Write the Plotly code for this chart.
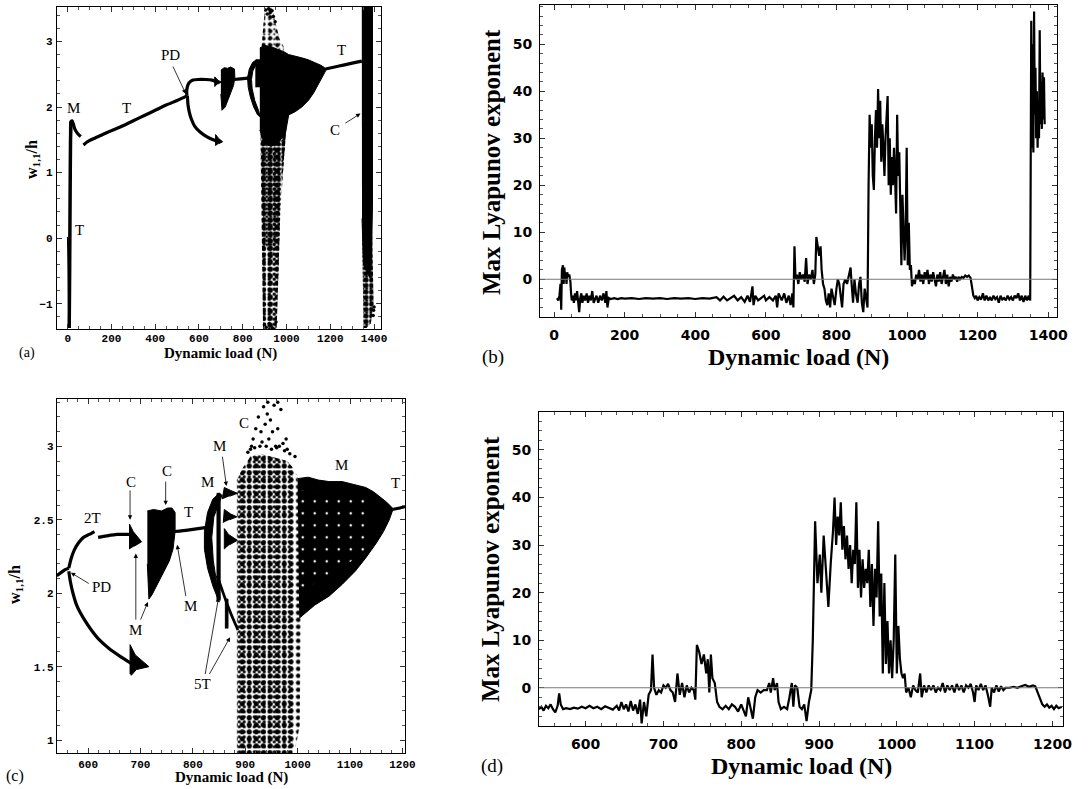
import plotly.graph_objects as go

# ------------------------------------------------------------------
# Panel (b): max Lyapunov exponent, 0..1400 N
B_LOAD = [8,12,15,18,20,22,25,27,29,31,33,35,37,40,43,46,48,50,53,56,59,62,65,68,71,74,77,80,84,88,92,96,100,
          104,108,112,116,120,125,130,135,140,145,148,151,155,160,170,180,190,200,220,240,260,280,300,320,340,
          360,380,400,420,440,460,470,480,490,500,510,520,530,540,548,555,562,565,570,578,585,595,600,610,620,
          628,632,636,645,652,658,665,670,675,678,681,684,688,692,696,700,705,710,714,718,722,727,732,736,740,
          743,747,751,755,758,762,766,770,774,778,782,786,790,795,800,804,808,812,816,820,825,830,835,840,843,
          847,851,855,860,864,868,872,876,880,884,888,891,894,897,900,903,906,909,912,915,918,921,924,927,930,
          933,936,939,942,945,948,951,954,957,960,963,966,969,972,975,978,981,984,987,990,993,996,999,1002,1005,
          1008,1011,1014,1018,1022,1026,1030,1034,1038,1042,1046,1050,1054,1058,1062,1066,1070,1074,1078,1082,
          1086,1090,1094,1098,1102,1106,1110,1114,1118,1122,1126,1130,1134,1138,1142,1146,1150,1155,1160,1165,
          1170,1175,1180,1184,1188,1192,1196,1200,1205,1210,1215,1220,1225,1230,1235,1240,1245,1250,1255,1260,
          1265,1270,1275,1280,1285,1290,1295,1300,1305,1310,1315,1320,1325,1330,1335,1340,1345,1349,1352,1354,
          1356,1358,1360,1362,1364,1366,1368,1370,1372,1374,1376,1378,1380,1382,1384,1386,1388,1390]
B_LYAP = [-4,-4.5,-3.5,-1,-6.5,2,3,-1,2.5,0,1.5,-1,1.5,0.5,1,-0.5,-3,-4.5,-3.5,-5,-3,-4.5,-2.5,-5.5,-7,-4,-3,-5,
          -3.5,-4.5,-3,-5,-3.5,-4.5,-2.5,-5,-4,-3.5,-5,-3.5,-4.5,-3,-5,-2.5,-6,-4,-4.2,-4,-4.2,-4,-4.1,-4,-4.2,
          -4,-4.1,-4,-4.2,-4,-4.1,-4,-4.2,-4,-4.1,-3.8,-4.5,-3.7,-4.5,-4,-3.5,-4.5,-3.8,-4.8,-3.5,-4.8,-1.5,-5.5,
          -3.5,-4.5,-4,-3.5,-4.5,-3.8,-4.5,-3.5,-6,-3,-4.5,-3,-5,-3.5,-5.5,-3,-6,7,0,1,-1,1.5,0,1,-0.5,4.5,-1,1,
          0,2,-1,1,9,7,5,7,2,-1,-2,-4.5,-5.5,-3,-6,-2,-4,-5.5,-2,0,-1,-4,-6,-1,0,-1,0.5,2.5,-1,-5,0,-3,-5,-1,0.5,
          -5,-7,-2,-4,-6,20,35,28,33,22,19,30,36,28,40.5,30,38,25,33,28,22,30,35,39,20,30,18,26,20,28,22,14,35,
          22,27,13,3,18,8,4,10,28,3,12,2,3,-1.5,0,-1,1,0,2,-0.5,1,-1,1.5,0,2,-1,1,-0.5,1.5,0,-1.5,1,-0.5,1.5,-1,
          0.5,2,-1,1,-1.5,0.5,-0.5,1,0,0.5,-0.5,0.5,0,0.5,0.3,0.8,0.5,0.8,0.3,-1.5,-3.5,-4,-3.5,-4.5,-3.8,-4.3,
          -3,-4.5,-3.5,-4.5,-3.8,-4.5,-3.5,-4.2,-3.8,-5,-3.5,-4.3,-4,-4.5,-3.5,-4.3,-3.8,-4.5,-3.5,-4,-3,-4.5,
          -3.5,-4.8,-3.5,-4.5,-3.5,-4.5,55,28,50,27,57,35,45,30,40,28,38,30,53,33,42,32,44,34,43,33]

# Panel (d): max Lyapunov exponent, 540..1210 N
D_LOAD = [540,543,546,549,552,555,558,561,564,566,568,571,575,580,585,590,595,600,605,610,615,620,625,630,635,
          640,643,646,649,652,655,658,661,664,667,670,672,675,678,681,684,686,688,691,694,697,700,703,706,709,
          712,715,718,721,724,727,730,733,736,739,741,743,746,749,752,755,757,759,761,763,766,769,772,776,780,
          784,788,792,796,800,803,806,809,812,815,818,821,825,829,833,836,838,841,843,846,848,851,855,859,862,
          865,867,869,872,875,878,881,884,887,890,892,895,898,901,903,906,909,912,915,918,920,922,924,926,928,
          930,932,934,936,938,940,942,944,946,948,950,952,954,956,958,960,962,964,966,968,970,972,974,976,978,
          980,982,984,986,988,990,992,994,996,998,1000,1002,1004,1006,1008,1010,1012,1015,1018,1021,1024,1027,
          1030,1032,1035,1038,1041,1044,1047,1050,1053,1056,1059,1062,1065,1068,1071,1074,1077,1080,1083,1086,
          1089,1092,1095,1098,1100,1102,1105,1108,1111,1114,1117,1120,1122,1125,1128,1131,1134,1137,1140,1145,
          1150,1155,1160,1165,1170,1175,1178,1181,1184,1187,1190,1193,1196,1199,1202,1205,1208,1212]
D_LYAP = [-4.5,-4,-4.8,-3.8,-4.3,-3.5,-4.5,-5.2,-3.8,-1.2,-3.5,-4.5,-4.3,-4.5,-4.2,-4.4,-4,-4.3,-3.8,-4.3,-4,
          -4.5,-3.9,-4.3,-4.6,-3.8,-4.8,-3,-4.5,-3.5,-5,-2.8,-4.8,-3.5,-5.5,-2.5,-7.5,-3,-6,-1.5,-0.5,7,0,-1.5,
          -0.5,-1,0.5,0,0.8,-0.5,-1,-3,3,-1.5,1,-2,0.5,-1,0,-0.5,-2.5,9,7.5,5,7,3,6,-1,7,2,1,-3,-4,-4.5,-3.8,
          -4.5,-3.5,-4,-5,-3.5,-5,-6,-2,-4,-6.5,-2,-0.5,-1,-0.5,-0.5,1,-1,2,-0.5,1,-3,-4.5,-4,-4.5,-2,1,-4,0.5,
          0,-4,-4.5,-3.5,-7,-3,-0.5,10,35,22,28,20,32,24,17,26,33,40,30,36,32,39,29,34,27,32,25,30,22,29,26,39,
          21,29,19,27,21,25,22,29,17,26,13,25,19,35,15,24,3,22,5,14,3,10,2,10,28,3,13,6,3,2,3,-1,0,-2,0.5,-0.5,
          -1,3,-2,0.5,-1,0.5,-0.5,0.5,-1,0,-0.5,1,-1,0.5,-0.5,0.5,-1,0.8,-0.5,0.5,-1,0.5,0,0.8,-1,-3,0.5,-0.5,
          0.8,-0.5,0.5,-1.5,-4,0,-1,0.5,-0.8,0.3,-0.5,0,0,0.2,0,0.3,0.6,0.2,0.5,0.3,-1,-2.5,-3.5,-4,-3.5,-4.2,
          -3.8,-4.5,-3.8,-4.3,-4]

# ------------------------------------------------------------------
# Panel (a): bifurcation diagram, 0..1400 N
A_T0_X = [0, 2, 4, 6]
A_T0_Y = [0.02, -0.4, -0.9, -1.37]
A_RISE_X = [7, 9, 11, 13, 15]
A_RISE_Y = [-1.37, -0.5, 0.6, 1.5, 1.78]
A_M_X = [13, 15, 20, 26, 32, 40, 50, 60]
A_M_Y = [1.6, 1.78, 1.79, 1.74, 1.67, 1.62, 1.58, 1.55]
A_T1_X = [72, 90, 120, 160, 200, 250, 300, 350, 400, 450, 500, 545]
A_T1_Y = [1.42, 1.47, 1.52, 1.58, 1.64, 1.71, 1.79, 1.87, 1.95, 2.03, 2.10, 2.17]
A_UP_X = [545, 544, 547, 555, 570, 595, 630, 660, 678]
A_UP_Y = [2.17, 2.24, 2.31, 2.37, 2.41, 2.42, 2.42, 2.41, 2.39]
A_LO_X = [547, 550, 556, 566, 580, 605, 635, 665, 690]
A_LO_Y = [2.17, 2.03, 1.92, 1.81, 1.71, 1.62, 1.55, 1.5, 1.47]
A_TRI1_X = [672, 672, 686, 702, 686]
A_TRI1_Y = [2.31, 2.46, 2.41, 2.38, 2.35]
A_TRI2_X = [676, 676, 690, 708, 690]
A_TRI2_Y = [1.41, 1.58, 1.52, 1.47, 1.44]
A_BLK_X = [700, 715, 730, 745, 762, 764, 758, 748, 735, 720, 705, 700]
A_BLK_Y = [2.56, 2.6, 2.59, 2.61, 2.58, 2.45, 2.33, 2.24, 2.12, 2.0, 1.95, 2.2]
A_T2_X = [760, 790, 825]
A_T2_Y = [2.42, 2.43, 2.44]
A_CRES_X = [862, 845, 830, 822, 825, 835, 850, 868, 880, 872, 855, 843, 840, 846, 858, 870]
A_CRES_Y = [2.72, 2.68, 2.58, 2.45, 2.3, 2.15, 2.0, 1.88, 1.85, 1.95, 2.1, 2.28, 2.42, 2.55, 2.63, 2.68]
A_SQ_X = [860, 860, 880, 880]
A_SQ_Y = [2.3, 2.72, 2.72, 2.3]
A_CORE_X = [878, 900, 930, 960, 990, 1010, 1040, 1070, 1100, 1130, 1155, 1170, 1180,
            1180, 1165, 1150, 1125, 1100, 1070, 1040, 1010, 995, 960, 930, 900, 878]
A_CORE_Y = [2.9, 2.94, 2.92, 2.88, 2.84, 2.8, 2.78, 2.75, 2.72, 2.68, 2.64, 2.61, 2.58,
            2.56, 2.47, 2.37, 2.22, 2.1, 2.0, 1.93, 1.88, 1.6, 1.45, 1.4, 1.45, 1.65]
A_SPK_TOP_X = [885, 893, 902, 935, 952, 968, 990, 985, 885]
A_SPK_TOP_Y = [2.9, 3.25, 3.53, 3.53, 3.25, 3.05, 2.9, 2.85, 2.85]
A_SPK_BOT_X = [880, 884, 889, 893, 955, 962, 972, 988, 1000, 1000]
A_SPK_BOT_Y = [1.7, 0.5, -0.5, -1.39, -1.39, -0.5, 0.4, 1.2, 1.7, 1.9]
A_SPK_IN_X = [882, 888, 898, 930, 955, 975, 995]
A_SPK_IN_Y = [1.6, 0.7, 0.0, -0.4, 0.0, 0.8, 1.6]
A_T3_X = [1178, 1220, 1260, 1300, 1344]
A_T3_Y = [2.58, 2.61, 2.64, 2.67, 2.7]
A_COL_X = [1344, 1393, 1393, 1388, 1380, 1352, 1345]
A_COL_Y = [3.53, 3.53, 0.5, -0.3, -0.6, -0.4, 0.3]
A_COLSPK_X = [1345, 1348, 1352, 1365, 1385, 1398, 1394, 1390]
A_COLSPK_Y = [0.2, -1.0, -1.37, -1.37, -1.3, -1.0, -0.3, 0.3]
A_DOTS_X = [905, 912, 918, 926, 934, 940, 948, 899, 907, 921, 936, 952, 1398, 1400, 1396]
A_DOTS_Y = [3.48, 3.42, 3.5, 3.44, 3.47, 3.38, 3.3, -1.32, -1.36, -1.3, -1.37, -1.28, -1.1, -1.05, -1.18]

# Panel (c): zoomed bifurcation diagram, 540..1210 N
C_T0_X = [540, 548, 556, 563]
C_T0_Y = [2.12, 2.14, 2.16, 2.17]
C_UPA_X = [563, 567, 573, 581, 591, 602, 612]
C_UPA_Y = [2.17, 2.23, 2.29, 2.34, 2.38, 2.4, 2.42]
C_UPB_X = [619, 635, 655, 680]
C_UPB_Y = [2.38, 2.39, 2.4, 2.4]
C_LO_X = [563, 566, 571, 579, 591, 606, 622, 641, 661, 683]
C_LO_Y = [2.15, 2.08, 2.0, 1.91, 1.83, 1.75, 1.68, 1.62, 1.57, 1.52]
C_TRI1_X = [679, 679, 686, 702, 688]
C_TRI1_Y = [2.3, 2.47, 2.42, 2.35, 2.32]
C_TRI2_X = [680, 680, 690, 716, 692, 682]
C_TRI2_Y = [1.45, 1.65, 1.58, 1.5, 1.48, 1.44]
C_BLK_X = [713, 725, 740, 752, 760, 766, 766, 762, 755, 745, 732, 722, 716, 713]
C_BLK_Y = [2.56, 2.57, 2.56, 2.58, 2.58, 2.55, 2.42, 2.3, 2.22, 2.15, 2.06, 1.99, 1.96, 2.2]
C_T1_X = [765, 790, 810, 830]
C_T1_Y = [2.42, 2.43, 2.44, 2.45]
C_CRES_X = [850, 838, 828, 822, 822, 828, 838, 849, 852, 845, 839, 836, 840, 850, 856]
C_CRES_Y = [2.68, 2.64, 2.55, 2.42, 2.3, 2.17, 2.05, 1.95, 1.97, 2.08, 2.22, 2.38, 2.52, 2.62, 2.67]
C_BAR_X = [846, 846, 852, 852]
C_BAR_Y = [1.95, 2.68, 2.68, 1.95]
C_M1_X = [856, 860, 872, 885, 870]
C_M1_Y = [2.64, 2.72, 2.7, 2.68, 2.66]
C_M2_X = [858, 860, 872, 884, 870]
C_M2_Y = [2.48, 2.57, 2.54, 2.52, 2.5]
C_M3_X = [860, 860, 868, 885, 870]
C_M3_Y = [2.3, 2.44, 2.4, 2.36, 2.33]
C_5T_X = [846, 855, 865, 875, 886]
C_5T_Y = [2.12, 2.03, 1.93, 1.84, 1.75]
C_5TB_X = [862, 862, 867, 867]
C_5TB_Y = [1.76, 1.96, 1.96, 1.76]
C_SPK_X = [884, 884, 895, 910, 930, 950, 965, 980, 990, 990]
C_SPK_Y = [0.91, 2.77, 2.85, 2.93, 2.95, 2.93, 2.92, 2.9, 2.86, 0.91]
C_SPK2_X = [988, 988, 1000, 1006, 1004, 996]
C_SPK2_Y = [0.95, 2.85, 2.8, 1.8, 1.1, 0.95]
C_LOBE_X = [1000, 1020, 1040, 1060, 1085, 1110, 1130, 1145, 1160, 1170, 1181,
            1181, 1175, 1164, 1150, 1130, 1110, 1085, 1060, 1033, 1003]
C_LOBE_Y = [2.78, 2.79, 2.77, 2.76, 2.76, 2.74, 2.72, 2.69, 2.65, 2.62, 2.58,
            2.56, 2.5, 2.42, 2.34, 2.24, 2.15, 2.06, 1.98, 1.92, 1.83]
C_WSPK_X = [1002, 1002, 1140, 1140]
C_WSPK_Y = [2.0, 2.7, 2.68, 2.3]
C_T2_X = [1180, 1195, 1206]
C_T2_Y = [2.57, 2.58, 2.59]
C_DOTS_X = [915, 920, 925, 930, 935, 938, 942, 945, 948, 952, 955, 958, 962, 968, 972, 910, 918, 928, 932,
            940, 950, 960, 965, 975, 980, 985, 995, 905, 912, 943, 962, 978]
C_DOTS_Y = [3.05, 3.12, 3.2, 3.1, 3.27, 3.15, 3.22, 3.05, 3.18, 3.1, 3.28, 3.0, 3.12, 3.25, 3.02, 2.98, 2.99,
            3.0, 3.03, 3.0, 2.98, 2.99, 3.0, 2.97, 2.98, 2.95, 2.93, 2.96, 3.0, 3.3, 3.3, 3.05]

# ------------------------------------------------------------------
SERIF = "Liberation Serif"
fig = go.Figure()


def line(xs, ys, ax, width=3.2, color="black"):
    fig.add_trace(go.Scatter(x=xs, y=ys, mode="lines", xaxis="x" + ax, yaxis="y" + ax,
                             line=dict(color=color, width=width, shape="spline", smoothing=0.6),
                             hoverinfo="skip"))


def poly(xs, ys, ax):
    fig.add_trace(go.Scatter(x=xs, y=ys, mode="lines", fill="toself", fillcolor="black",
                             xaxis="x" + ax, yaxis="y" + ax,
                             line=dict(color="black", width=1), hoverinfo="skip"))


def speckle(xs, ys, ax, size, solidity, fg="black"):
    fig.add_trace(go.Scatter(x=xs, y=ys, mode="lines", fill="toself", fillcolor="rgba(0,0,0,0)",
                             xaxis="x" + ax, yaxis="y" + ax, line=dict(width=0),
                             fillpattern=dict(shape=".", fgcolor=fg, bgcolor="rgba(0,0,0,0)",
                                              size=size, solidity=solidity),
                             hoverinfo="skip"))


def dots(xs, ys, ax, size=3.5):
    fig.add_trace(go.Scatter(x=xs, y=ys, mode="markers", xaxis="x" + ax, yaxis="y" + ax,
                             marker=dict(color="black", size=size), hoverinfo="skip"))


# panel a  (axis suffix "")
line(A_T0_X, A_T0_Y, "", 1.5)
line(A_RISE_X, A_RISE_Y, "", 3.5)
line(A_M_X, A_M_Y, "", 3.2)
line(A_T1_X, A_T1_Y, "", 3.2)
line(A_UP_X, A_UP_Y, "", 3.2)
line(A_LO_X, A_LO_Y, "", 3.2)
poly(A_TRI1_X, A_TRI1_Y, "")
poly(A_TRI2_X, A_TRI2_Y, "")
poly(A_BLK_X, A_BLK_Y, "")
line(A_T2_X, A_T2_Y, "", 3.2)
poly(A_CRES_X, A_CRES_Y, "")
poly(A_SQ_X, A_SQ_Y, "")
speckle(A_SPK_TOP_X, A_SPK_TOP_Y, "", 7, 0.3)
speckle(A_SPK_TOP_X, A_SPK_TOP_Y, "", 5, 0.15)
speckle(A_SPK_BOT_X, A_SPK_BOT_Y, "", 7, 0.45)
speckle(A_SPK_BOT_X, A_SPK_BOT_Y, "", 5, 0.35)
speckle(A_SPK_IN_X, A_SPK_IN_Y, "", 4, 0.5)
poly(A_CORE_X, A_CORE_Y, "")
line(A_T3_X, A_T3_Y, "", 3.2)
poly(A_COL_X, A_COL_Y, "")
speckle(A_COLSPK_X, A_COLSPK_Y, "", 6, 0.6)
speckle(A_COLSPK_X, A_COLSPK_Y, "", 4, 0.4)
dots(A_DOTS_X, A_DOTS_Y, "", 3.5)

# panel b
fig.add_trace(go.Scatter(x=B_LOAD, y=B_LYAP, mode="lines", xaxis="x2", yaxis="y2",
                         line=dict(color="black", width=2.2), hoverinfo="skip"))

# panel c
line(C_T0_X, C_T0_Y, "3", 3.2)
line(C_UPA_X, C_UPA_Y, "3", 3.2)
line(C_UPB_X, C_UPB_Y, "3", 3.2)
line(C_LO_X, C_LO_Y, "3", 3.2)
poly(C_TRI1_X, C_TRI1_Y, "3")
poly(C_TRI2_X, C_TRI2_Y, "3")
poly(C_BLK_X, C_BLK_Y, "3")
line(C_T1_X, C_T1_Y, "3", 3.2)
poly(C_CRES_X, C_CRES_Y, "3")
poly(C_BAR_X, C_BAR_Y, "3")
poly(C_M1_X, C_M1_Y, "3")
poly(C_M2_X, C_M2_Y, "3")
poly(C_M3_X, C_M3_Y, "3")
line(C_5T_X, C_5T_Y, "3", 2.8)
poly(C_5TB_X, C_5TB_Y, "3")
speckle(C_SPK_X, C_SPK_Y, "3", 7, 0.42)
speckle(C_SPK_X, C_SPK_Y, "3", 5, 0.32)
speckle(C_SPK2_X, C_SPK2_Y, "3", 7, 0.35)
poly(C_LOBE_X, C_LOBE_Y, "3")
speckle(C_WSPK_X, C_WSPK_Y, "3", 12, 0.035, fg="white")
line(C_T2_X, C_T2_Y, "3", 3.2)
dots(C_DOTS_X, C_DOTS_Y, "3", 3.5)

# panel d
fig.add_trace(go.Scatter(x=D_LOAD, y=D_LYAP, mode="lines", xaxis="x4", yaxis="y4",
                         line=dict(color="black", width=2.2), hoverinfo="skip"))

# ------------------------------------------------------------------
def axis(domain, rng, dtick, minor, anchor, font, standoff):
    return dict(domain=domain, range=rng, dtick=dtick, tick0=0, anchor=anchor, automargin=False,
                showline=True, linecolor="black", linewidth=1, mirror="allticks",
                ticks="inside", ticklen=5, tickwidth=1, tickcolor="#333",
                minor=dict(ticks="inside", ticklen=3, dtick=minor, tickcolor="#555"),
                showgrid=False, zeroline=False, tickfont=font, ticklabelstandoff=standoff)


MONO = dict(family="Liberation Mono", size=11, color="black", weight="bold")
SANS = dict(family="DejaVu Sans", size=14, color="black", weight="bold")

fig.update_layout(
    template="none",
    width=1089, height=789, margin=dict(l=0, r=0, t=0, b=0),
    paper_bgcolor="white", plot_bgcolor="white", showlegend=False,
    xaxis=axis([0.0521, 0.3499], [-50, 1432], 200, 50, "y", MONO, -2),
    yaxis=axis([0.5826, 0.9915], [-1.39, 3.53], 1, 0.2, "x", MONO, 1),
    xaxis2=axis([0.4959, 0.9703], [-40, 1424], 200, 50, "y2", SANS, 5),
    yaxis2=axis([0.5978, 0.9933], [-8.1, 58.3], 10, 2, "x2", SANS, 4),
    xaxis3=axis([0.0521, 0.3719], [540, 1205], 100, 20, "y3", MONO, 0),
    yaxis3=axis([0.0452, 0.4939], [0.91, 3.32], 0.5, 0.1, "x3", MONO, 0),
    xaxis4=axis([0.4949, 0.9764], [540, 1214], 100, 20, "y4", SANS, 5),
    yaxis4=axis([0.0798, 0.4774], [-8.05, 57.9], 10, 2, "x4", SANS, 4),
)

# zero reference lines in (b) and (d)
for ax in ("2", "4"):
    fig.add_shape(type="line", xref="x" + ax + " domain", yref="y" + ax, x0=0, x1=1, y0=0, y1=0,
                  line=dict(color="#777", width=1.2))

ann = []


def text(t, x, y, ax, size=15, family=SERIF, weight="normal"):
    ann.append(dict(text=t, x=x, y=y, xref="x" + ax, yref="y" + ax, showarrow=False,
                    font=dict(family=family, size=size, color="black", weight=weight)))


def arrow(xh, yh, xt, yt, ax):
    ann.append(dict(text="", x=xh, y=yh, ax=xt, ay=yt, xref="x" + ax, yref="y" + ax,
                    axref="x" + ax, ayref="y" + ax, showarrow=True, arrowhead=2,
                    arrowsize=1.1, arrowwidth=0.8, arrowcolor="black"))


def ptext(t, px, py, size, weight="normal", angle=0):
    ann.append(dict(text=t, x=px / 1089, y=1 - py / 789, xref="paper", yref="paper",
                    showarrow=False, textangle=angle, xanchor="center", yanchor="middle",
                    font=dict(family=SERIF, size=size, color="black", weight=weight)))


# panel a labels
text("M", 26, 1.98, "")
text("T", 270, 1.98, "")
text("PD", 468, 2.8, "")
arrow(540, 2.2, 478, 2.64, "")
text("T", 52, 0.12, "")
text("T", 1252, 2.87, "")
text("C", 1222, 1.65, "")
arrow(1338, 1.9, 1262, 1.74, "")

# panel c labels
text("2T", 609, 2.51, "3")
text("C", 682, 2.76, "3")
arrow(680, 2.5, 680, 2.71, "3")
text("C", 751, 2.83, "3")
arrow(748, 2.6, 748, 2.77, "3")
text("T", 791, 2.55, "3")
text("M", 796, 1.91, "3")
arrow(770, 2.33, 787, 1.97, "3")
text("M", 691, 1.75, "3")
arrow(691, 2.27, 691, 1.81, "3")
arrow(714, 1.94, 699, 1.81, "3")
text("PD", 626, 2.04, "3")
arrow(567, 2.14, 604, 2.06, "3")
text("M", 828, 2.76, "3")
text("M", 851, 3.0, "3")
arrow(864, 2.73, 856, 2.94, "3")
text("C", 898, 3.16, "3")
text("M", 1083, 2.87, "3")
text("T", 1187, 2.75, "3")
text("5T", 819, 1.38, "3")
arrow(849, 1.97, 823, 1.44, "3")
arrow(871, 1.7, 830, 1.44, "3")

# axis titles and panel letters
ptext("Dynamic load (N)", 220, 353, 15, "bold")
ptext("Dynamic load (N)", 798, 357, 24, "bold")
ptext("Dynamic load (N)", 231, 777, 15, "bold")
ptext("Dynamic load (N)", 801, 766, 24, "bold")
ptext("w<sub>1,1</sub>/h", 32, 160, 16, "bold", -90)
ptext("w<sub>1,1</sub>/h", 15, 585, 16, "bold", -90)
ptext("Max Lyapunov exponent", 492, 162, 25, "bold", -90)
ptext("Max Lyapunov exponent", 490, 569, 25, "bold", -90)
ptext("(a)", 27, 353, 14)
ptext("(b)", 493, 357, 19)
ptext("(c)", 15, 776, 16)
ptext("(d)", 492, 766, 19)

fig.update_layout(annotations=ann)
fig.write_html("out.html", config={"displayModeBar": False},
               post_script="document.body.style.margin='0px';")
